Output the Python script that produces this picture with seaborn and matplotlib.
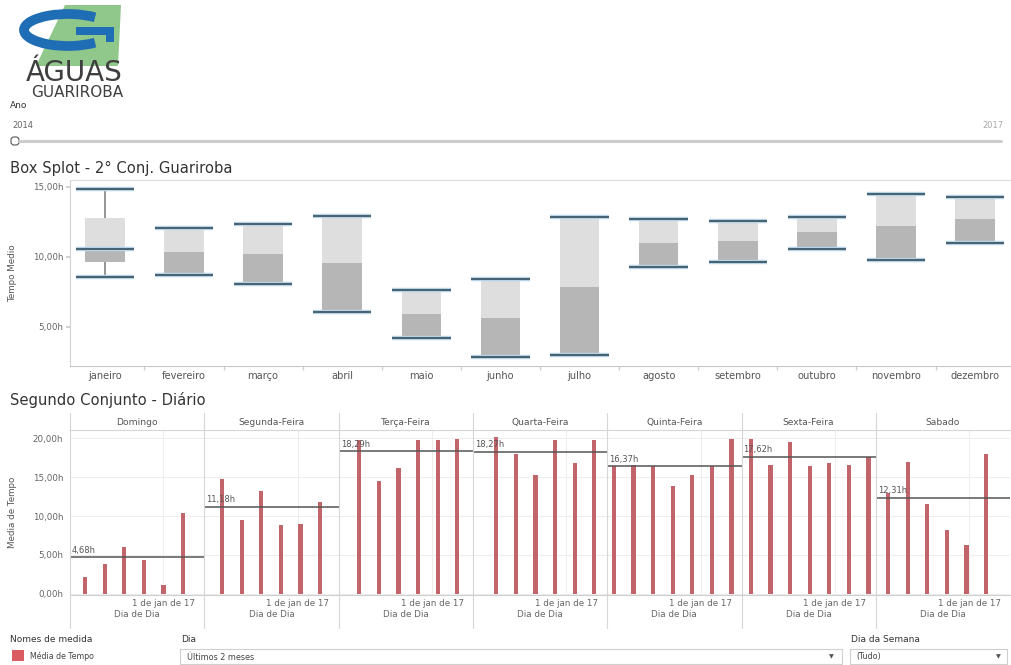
import numpy as np
import pandas as pd
import matplotlib
matplotlib.use('Agg')
import matplotlib.pyplot as plt
import matplotlib.dates as mdates
import matplotlib.transforms as mtrans
from matplotlib.patches import Rectangle, Arc, Polygon, FancyBboxPatch
import seaborn as sns

sns.set_theme(style='white')
plt.rcParams['font.family'] = ['DejaVu Sans']

# --- box plot mensal (horas) ---
meses = ['janeiro', 'fevereiro', 'março', 'abril', 'maio', 'junho', 'julho',
         'agosto', 'setembro', 'outubro', 'novembro', 'dezembro']
maximo = [14.85, 12.03, 12.36, 12.90, 7.60, 8.43, 12.84, 12.67, 12.55, 12.86, 14.48, 14.24]
q3 = [12.79, 12.03, 12.36, 12.90, 7.60, 8.43, 12.84, 12.67, 12.55, 12.86, 14.48, 14.24]
mediana = [10.53, 10.36, 10.17, 9.53, 5.89, 5.64, 7.86, 11.00, 11.10, 11.76, 12.19, 12.67]
q1 = [9.60, 8.69, 8.07, 6.07, 4.21, 2.81, 2.96, 9.24, 9.60, 10.57, 9.79, 11.00]
minimo = [8.55, 8.69, 8.07, 6.07, 4.21, 2.81, 2.96, 9.24, 9.60, 10.57, 9.79, 11.00]

# --- diario por dia da semana (01/12/2016 a 13/01/2017) ---
dias_semana = ['Domingo', 'Segunda-Feira', 'Terça-Feira', 'Quarta-Feira',
               'Quinta-Feira', 'Sexta-Feira', 'Sabado']
horas_dom = [2.2, 3.9, 6.0, 4.35, 1.2, 10.4]
horas_seg = [14.8, 9.45, 13.15, 8.9, 9.0, 11.78]
horas_ter = [19.8, 14.5, 16.2, 19.75, 19.7, 19.85]
horas_qua = [20.1, 17.95, 15.3, 19.7, 16.75, 19.8]
horas_qui = [16.35, 16.55, 16.35, 13.8, 15.3, 16.35, 19.85]
horas_sex = [19.85, 16.6, 19.45, 16.4, 16.85, 16.6, 17.6]
horas_sab = [12.95, 16.9, 11.6, 8.2, 6.25, 18.0]
medias = [4.68, 11.18, 18.29, 18.27, 16.37, 17.62, 12.31]

W, H = 1011, 665
COR_BARRA = '#c2656b'
CINZA_TXT = '#666666'


def rect(x0, y0, x1, y1):
    return [x0 / W, 1 - y1 / H, (x1 - x0) / W, (y1 - y0) / H]


def fmt_h(v):
    return f'{v:.2f}h'.replace('.', ',')


# dataframe diario
dias = pd.date_range('2016-12-01', '2017-01-13', freq='D')
nomes = {6: 'Domingo', 0: 'Segunda-Feira', 1: 'Terça-Feira', 2: 'Quarta-Feira',
         3: 'Quinta-Feira', 4: 'Sexta-Feira', 5: 'Sabado'}
df = pd.DataFrame({'Dia': dias})
df['Dia da Semana'] = df['Dia'].dt.dayofweek.map(nomes)
df['dia_num'] = mdates.date2num(df['Dia'])
df['Media de Tempo'] = np.nan
for nome, vals in zip(dias_semana, [horas_dom, horas_seg, horas_ter, horas_qua,
                                    horas_qui, horas_sex, horas_sab]):
    df.loc[df['Dia da Semana'] == nome, 'Media de Tempo'] = vals

g = sns.FacetGrid(df, col='Dia da Semana', col_order=dias_semana, sharex=True,
                  sharey=True, height=2, aspect=0.7, despine=False)
g.map(plt.bar, 'dia_num', 'Media de Tempo', width=1.5, color=COR_BARRA, linewidth=0)
g.set_titles('{col_name}', size=6.6, color='#555555', pad=3.5)
g.set_axis_labels('Dia de Dia', 'Media de Tempo')
fig = g.figure
fig.set_size_inches(W / 100, H / 100)

xmin = mdates.date2num(pd.Timestamp('2016-11-28 15:00'))
xmax = xmin + 134.3 / 2.8
jan1 = mdates.date2num(pd.Timestamp('2017-01-01'))
for k, ax in enumerate(g.axes.flat):
    x0 = 70 + k * 134.3
    ax.set_position(rect(x0, 430, x0 + 134.3, 595))
    ax.set_facecolor('none')
    ax.set_xlim(xmin, xmax)
    ax.set_ylim(-0.13, 21.03)
    ax.set_xticks([jan1])
    ax.set_xticklabels(['1 de jan de 17'])
    ax.set_yticks([0, 5, 10, 15, 20])
    ax.set_yticklabels([fmt_h(v) for v in [0, 5, 10, 15, 20]])
    ax.tick_params(axis='both', labelsize=6.3, colors=CINZA_TXT, length=0, pad=3)
    ax.tick_params(axis='y', length=3, color='#cccccc', pad=2)
    ax.grid(True, color='#eeeeee', lw=0.8)
    ax.set_axisbelow(True)
    for s in ['left', 'right']:
        ax.spines[s].set_visible(False)
    ax.spines['top'].set_color('#d6d6d6')
    ax.spines['bottom'].set_color('#cfcfcf')
    ax.spines['top'].set_linewidth(0.8)
    ax.spines['bottom'].set_linewidth(0.8)
    ax.xaxis.label.set_size(6.3)
    ax.xaxis.label.set_color(CINZA_TXT)
    ax.xaxis.labelpad = 1
    m = medias[k]
    ax.axhline(m, color='#555555', lw=1.1, zorder=3)
    tr = mtrans.blended_transform_factory(ax.transAxes, ax.transData)
    ax.text(0.015, m + 0.35, fmt_h(m), transform=tr, fontsize=6, color='#555555',
            va='bottom', ha='left')
ax0 = g.axes.flat[0]
ax0.yaxis.label.set_size(6.3)
ax0.yaxis.label.set_color('#555555')
ax0.yaxis.set_label_coords((17 - 70) / 134.3, 0.5)

# --- box plot ---
axb = fig.add_axes(rect(70, 180, 1010, 365.7))
x = np.arange(len(meses))
q1a, q3a, meda = np.array(q1), np.array(q3), np.array(mediana)
axb.bar(x, q3a - meda, bottom=meda, width=0.5, color='#dedede', linewidth=0, zorder=2)
axb.bar(x, meda - q1a, bottom=q1a, width=0.5, color='#b6b6b6', linewidth=0, zorder=2)
axb.vlines(x, minimo, q1, color='#8c8c8c', lw=1.3, zorder=1)
axb.vlines(x, q3, maximo, color='#8c8c8c', lw=1.3, zorder=1)
for vals in [maximo, minimo, mediana[:1]]:
    xs = x[:len(vals)]
    axb.hlines(vals, xs - 0.37, xs + 0.37, color='#b8d3e6', lw=3.2, zorder=3)
    axb.hlines(vals, xs - 0.37, xs + 0.37, color='#46606f', lw=1.4, zorder=4)
axb.set_xlim(-0.44, 11.44)
axb.set_ylim(2.21, 15.48)
axb.set_xticks(x)
axb.set_xticklabels(meses)
axb.set_xticks(x[:-1] + 0.5, minor=True)
axb.set_yticks([5, 10, 15])
axb.set_yticklabels([fmt_h(v) for v in [5, 10, 15]])
axb.tick_params(axis='x', which='major', length=0, labelsize=7.1, colors='#555555', pad=4)
axb.tick_params(axis='x', which='minor', length=3, color='#d0d0d0', bottom=True)
axb.tick_params(axis='y', length=3, color='#cccccc', labelsize=6.3, colors=CINZA_TXT, pad=2, left=True)
axb.spines['right'].set_visible(False)
axb.spines['top'].set_color('#dddddd')
axb.spines['left'].set_color('#d3d3d3')
axb.spines['bottom'].set_color('#c8c8c8')
for s in ['top', 'left', 'bottom']:
    axb.spines[s].set_linewidth(0.8)
axb.set_ylabel('Tempo Medio', fontsize=6.3, color='#555555')
axb.yaxis.set_label_coords((17 - 70) / 940, 0.5)

# --- camada de interface (pixels) ---
ui = fig.add_axes([0, 0, 1, 1], zorder=10)
ui.set_xlim(0, W)
ui.set_ylim(H, 0)
ui.axis('off')
ui.patch.set_alpha(0)

# logo
ui.add_patch(Polygon([(65, 5), (121, 5), (118, 66), (36, 66)], closed=True,
                     color='#90c78b', lw=0))
ui.add_patch(Arc((68, 30), 88, 32, theta1=25, theta2=335, color='#1f6db4', lw=7))
ui.add_patch(Rectangle((76, 27), 38, 8, color='#1f6db4', lw=0))
ui.add_patch(Rectangle((106, 27), 8, 15, color='#1f6db4', lw=0))
ui.text(74, 81, 'ÁGUAS', fontsize=20, color='#3f3f3f', ha='center', va='baseline')
ui.text(77, 97, 'GUARIROBA', fontsize=11, color='#3f3f3f', ha='center', va='baseline')

# filtro Ano
ui.text(10, 105, 'Ano', fontsize=6.5, color='#333333', va='center')
ui.text(12, 125, '2014', fontsize=6, color='#666666', va='center')
ui.text(1004, 125, '2017', fontsize=6, color='#aaaaaa', va='center', ha='right')
ui.plot([18, 1002], [141, 141], color='#cccccc', lw=2.2, solid_capstyle='butt')
ui.add_patch(FancyBboxPatch((11, 137), 8, 8, boxstyle='round,pad=0,rounding_size=3',
                            fc='white', ec='#555555', lw=0.8))

# titulos
ui.text(10, 168, 'Box Splot - 2° Conj. Guariroba', fontsize=10.6, color='#333333', va='center')
ui.text(10, 400, 'Segundo Conjunto - Diário', fontsize=10.6, color='#333333', va='center')

# separadores dos paineis
for k in range(7):
    xs = 70 + k * 134.3
    ui.plot([xs, xs], [413, 628], color='#d6d6d6', lw=0.8)

# legenda e filtros inferiores
ui.text(10, 639, 'Nomes de medida', fontsize=6.5, color='#333333', va='center')
ui.add_patch(Rectangle((12, 650), 12, 11, color='#d95c62', lw=0))
ui.text(30, 656, 'Média de Tempo', fontsize=5.7, color='#444444', va='center')
ui.text(181, 639, 'Dia', fontsize=6.5, color='#333333', va='center')
ui.add_patch(Rectangle((180, 649), 662, 15, fc='white', ec='#cfcfcf', lw=0.8))
ui.text(187, 657, 'Últimos 2 meses', fontsize=5.8, color='#444444', va='center')
ui.text(829, 657, '▼', fontsize=4.5, color='#555555', va='center')
ui.text(851, 639, 'Dia da Semana', fontsize=6.5, color='#333333', va='center')
ui.add_patch(Rectangle((850, 649), 157, 15, fc='white', ec='#cfcfcf', lw=0.8))
ui.text(856, 657, '(Tudo)', fontsize=5.8, color='#444444', va='center')
ui.text(996, 657, '▼', fontsize=4.5, color='#555555', va='center')

fig.savefig('out.png', dpi=100, facecolor='white')
